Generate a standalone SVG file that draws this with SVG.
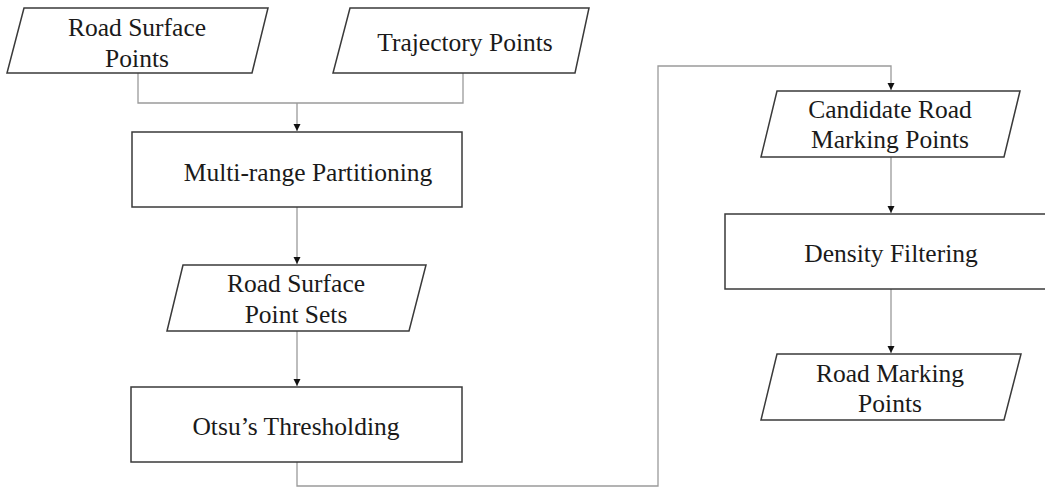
<svg xmlns="http://www.w3.org/2000/svg" width="1045" height="487" viewBox="0 0 1045 487">
<style>
.shape{fill:#fff;stroke:#3a3a3a;stroke-width:1.5}
.conn{fill:none;stroke:#9a9a9a;stroke-width:1.3}
text{font-family:"Liberation Serif","Times New Roman",serif;font-size:25.5px;fill:#1a1a1a;text-anchor:middle}
</style>
<defs>
<marker id="arr" markerWidth="8" markerHeight="8" refX="7" refY="4" orient="auto" markerUnits="userSpaceOnUse">
<path d="M0,0.5 L7,4 L0,7.5 Z" fill="#111"/>
</marker>
</defs>
<rect width="1045" height="487" fill="#fff"/>
<g id="connectors">
<path class="conn" d="M138,73 V103 H463 V73"/>
<path class="conn" d="M297,103 V131" marker-end="url(#arr)"/>
<path class="conn" d="M297,207 V264" marker-end="url(#arr)"/>
<path class="conn" d="M297,331 V386" marker-end="url(#arr)"/>
<path class="conn" d="M297,462 V486 H658 V66 H891 V90" marker-end="url(#arr)"/>
<path class="conn" d="M891,157 V213" marker-end="url(#arr)"/>
<path class="conn" d="M891,289 V353" marker-end="url(#arr)"/>
</g>
<g id="road-surface-points">
<polygon class="shape" points="24,8 268,8 252,73 7,73"/>
<text x="137" y="36">Road Surface</text>
<text x="137" y="67">Points</text>
</g>
<g id="trajectory-points">
<polygon class="shape" points="350,8 589,8 575,73 333,73"/>
<text x="465" y="51">Trajectory Points</text>
</g>
<g id="multi-range-partitioning">
<rect class="shape" x="132" y="132" width="330" height="75"/>
<text x="308" y="181">Multi-range Partitioning</text>
</g>
<g id="road-surface-point-sets">
<polygon class="shape" points="183,265 426,265 409,331 167,331"/>
<text x="296" y="292">Road Surface</text>
<text x="296" y="323">Point Sets</text>
</g>
<g id="otsu-thresholding">
<rect class="shape" x="131" y="387" width="331" height="75"/>
<text x="296" y="435">Otsu’s Thresholding</text>
</g>
<g id="candidate-road-marking-points">
<polygon class="shape" points="777,91 1020,91 1004,157 761,157"/>
<text x="890" y="118">Candidate Road</text>
<text x="890" y="148">Marking Points</text>
</g>
<g id="density-filtering">
<rect class="shape" x="725" y="214" width="332" height="75"/>
<text x="891" y="262">Density Filtering</text>
</g>
<g id="road-marking-points">
<polygon class="shape" points="777,354 1021,354 1004,420 761,420"/>
<text x="890" y="382">Road Marking</text>
<text x="890" y="412">Points</text>
</g>
</svg>
